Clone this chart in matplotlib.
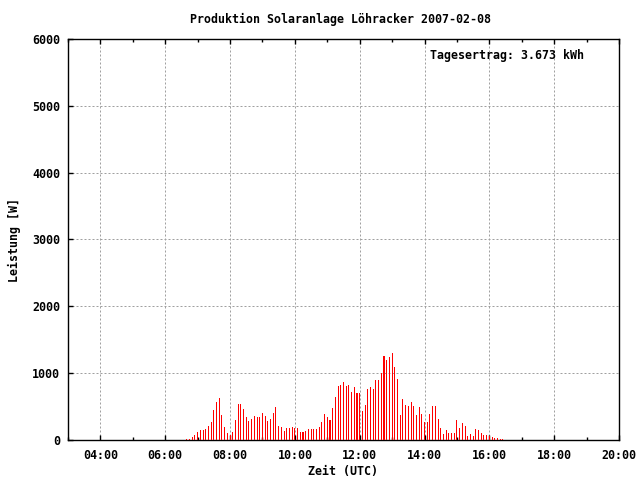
import numpy as np
import matplotlib
matplotlib.use("Agg")
import matplotlib.pyplot as plt
from matplotlib.ticker import FixedLocator, MultipleLocator

# 5-minute samples starting at 06:40 UTC
start_time = "06:40"
step_min = 5
power_w = [
    20, 20, 50, 80, 125, 145, 155, 170, 215, 275,
    455, 575, 630, 380, 200, 110, 80, 125, 305, 540,
    540, 470, 350, 290, 320, 365, 350, 350, 410, 365,
    290, 320, 410, 500, 215, 200, 140, 185, 185, 200,
    185, 185, 120, 120, 135, 165, 165, 165, 165, 195,
    270, 390, 345, 300, 480, 645, 810, 825, 870, 810,
    825, 720, 795, 705, 705, 435, 525, 765, 795, 765,
    900, 900, 1005, 1260, 1200, 1245, 1305, 1095, 915, 375,
    615, 525, 510, 570, 510, 375, 495, 390, 270, 270,
    390, 510, 510, 315, 183, 93, 153, 108, 108, 108,
    303, 183, 258, 213, 63, 95, 65, 170, 155, 110,
    80, 80, 65, 50, 35, 35, 20, 20,
]
title = "Produktion Solaranlage Löhracker 2007-02-08"
total_text = "Tagesertrag: 3.673 kWh"
x_ticks = [4, 6, 8, 10, 12, 14, 16, 18, 20]
x_labels = ["04:00", "06:00", "08:00", "10:00", "12:00", "14:00", "16:00", "18:00", "20:00"]
y_ticks = [0, 1000, 2000, 3000, 4000, 5000, 6000]

h0, m0 = map(int, start_time.split(":"))
t = h0 + m0 / 60 + np.arange(len(power_w)) * step_min / 60

plt.rcParams["font.family"] = "DejaVu Sans Mono"
plt.rcParams["font.weight"] = "bold"
plt.rcParams["font.size"] = 8.4

fig = plt.figure(figsize=(6.4, 4.8), dpi=100)
ax = fig.add_axes([68 / 640, 1 - 440 / 480, (619 - 68) / 640, (440 - 39) / 480])

ax.bar(t, power_w, width=0.032, color="#ff0000", linewidth=0, zorder=3)

ax.set_xlim(3, 20)
ax.set_ylim(0, 6000)
ax.xaxis.set_major_locator(FixedLocator(x_ticks))
ax.set_xticklabels(x_labels)
ax.xaxis.set_minor_locator(MultipleLocator(1))
ax.yaxis.set_major_locator(FixedLocator(y_ticks))

ax.tick_params(axis="x", which="both", direction="in", top=True, width=1, pad=6.5)
ax.tick_params(axis="y", which="both", direction="in", right=False, width=1, pad=5.5)
ax.tick_params(which="major", length=3.5)
ax.tick_params(which="minor", length=2.2)
for s in ax.spines.values():
    s.set_linewidth(1)

ax.grid(True, which="major", color="#a0a0a0", linestyle=(0, (2, 2)), linewidth=0.72, zorder=0)
ax.set_axisbelow(True)

fig.text(341 / 640, 1 - 19.5 / 480, title, ha="center", va="center")
fig.text(584 / 640, 1 - 56 / 480, total_text, ha="right", va="center")
fig.text(343 / 640, 1 - 472 / 480, "Zeit (UTC)", ha="center", va="center")
fig.text(14 / 640, 1 - 240 / 480, "Leistung [W]", ha="center", va="center", rotation=90)

fig.savefig("out.png", dpi=100)
